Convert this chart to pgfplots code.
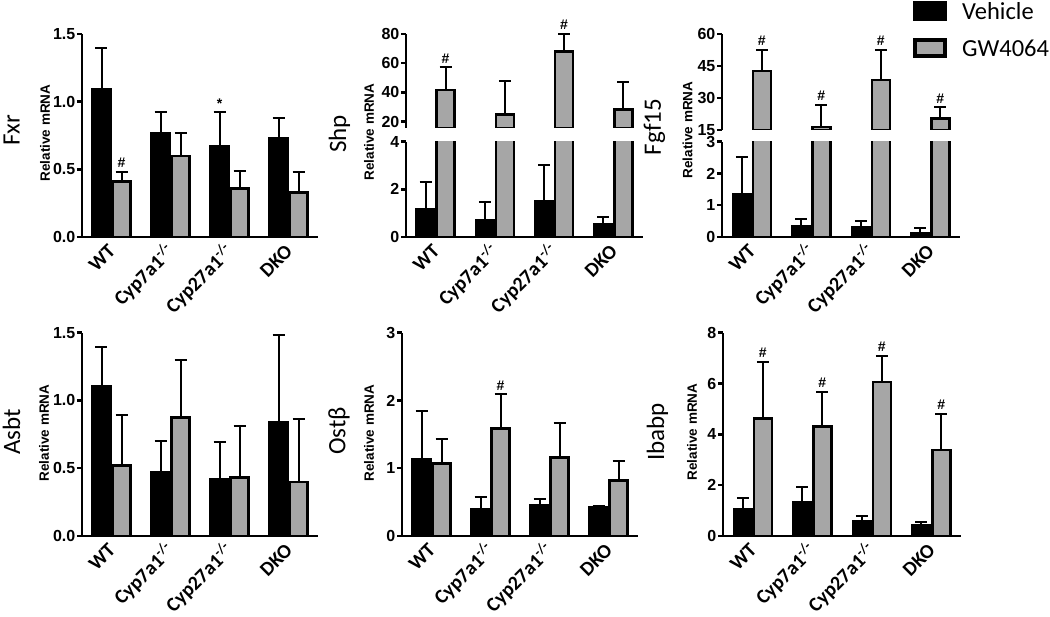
\documentclass[border=0pt]{standalone}
\usepackage{fontspec}
\setmainfont{Liberation Sans}
\newfontfamily\cfont{Carlito}
\usepackage{pgfplots}
\pgfplotsset{compat=1.18}
\definecolor{barg}{HTML}{A6A6A6}
\newcommand\tfont{\fontsize{16}{18}\selectfont\bfseries}
\newcommand\xfont{\cfont\fontsize{20}{22}\selectfont\bfseries}
\newcommand\rfont{\fontsize{13.5}{15}\selectfont\bfseries}
\newcommand\gfont{\cfont\fontsize{25}{28}\selectfont}
\newcommand\lfont{\cfont\fontsize{24.5}{28}\selectfont}
\newcommand\afont{\fontsize{14}{16}\selectfont\bfseries}
\tikzset{ann/.style={font=\afont, anchor=south, inner sep=0pt, yshift=4pt}}
\pgfplotsset{
  base/.style={scale only axis, anchor=south west, clip mode=individual,
    xmin=-0.5, xmax=3.5, enlargelimits=false, ybar,
    /pgf/number format/assume math mode=true,
    axis line style={-, line width=2.5pt},
    tick style={line width=2.5pt, black},
    major tick length=5pt,
    tick align=outside,
    tick label style={font=\tfont},
    yticklabel style={inner sep=1.5pt},
    error bars/y dir=plus, error bars/y explicit,
    error bars/error bar style={line width=2pt, black},
    error bars/error mark options={rotate=90, line width=2pt, mark size=6pt, black},
  },
  lowerx/.style={axis x line*=bottom, axis y line*=left,
    xtick={0,1,2,3},
    xticklabels={WT, Cyp7a1\textsuperscript{-/-}, Cyp27a1\textsuperscript{-/-}, DKO},
    xticklabel style={xshift=0.5pt, yshift=-6pt, rotate=45, anchor=east, inner sep=0pt, font=\xfont},
    major x tick style={draw=none},
  },
  upper/.style={axis x line=none, axis y line*=left, xtick=\empty},
  vb/.style={fill=black, draw=black, line width=2.5pt, bar width=18pt, bar shift=-10pt},
  gb/.style={fill=barg, draw=black, line width=2.5pt, bar width=18pt, bar shift=10pt},
}
\begin{document}
\begin{tikzpicture}
\useasboundingbox (0pt,0pt) rectangle (1050pt,-617pt);

% ---------- Fxr ----------
\begin{axis}[base, lowerx, at={(82pt,-237pt)}, width=236pt, height=203pt,
  ymin=0, ymax=1.5, ytick={0,0.5,1,1.5}, yticklabels={0.0,0.5,1.0,1.5}]
\addplot[vb] coordinates {(0,1.09) +- (0,0.31) (1,0.77) +- (0,0.15) (2,0.67) +- (0,0.25) (3,0.73) +- (0,0.15)};
\addplot[gb] coordinates {(0,0.41) +- (0,0.07) (1,0.60) +- (0,0.17) (2,0.36) +- (0,0.13) (3,0.33) +- (0,0.15)};
\node[ann, xshift=10pt] at (axis cs:0,0.48) {\#};
\node[ann, xshift=-10pt] at (axis cs:2,0.92) {*};
\end{axis}

% ---------- Shp ----------
\begin{axis}[base, lowerx, at={(406pt,-237pt)}, width=237pt, height=95.3pt,
  ymin=0, ymax=4, ytick={0,2,4}]
\addplot[vb] coordinates {(0,1.17) +- (0,1.15) (1,0.71) +- (0,0.76) (2,1.52) +- (0,1.50) (3,0.53) +- (0,0.32)};
\addplot[gb, error bars/y dir=none] coordinates {(0,41.7) (1,25) (2,67.9) (3,28.5)};
\end{axis}
\begin{axis}[base, upper, at={(406pt,-128pt)}, width=237pt, height=94pt,
  ymin=15.7, ymax=80, ytick={20,40,60,80}]
\addplot[gb] coordinates {(0,41.7) +- (0,15.5) (1,25) +- (0,22.8) (2,67.9) +- (0,12.1) (3,28.5) +- (0,18.4)};
\node[ann, xshift=10pt] at (axis cs:0,57.2) {\#};
\node[ann, xshift=10pt] at (axis cs:2,80) {\#};
\end{axis}

% ---------- Fgf15 ----------
\begin{axis}[base, lowerx, at={(722pt,-237pt)}, width=238pt, height=95.3pt,
  ymin=0, ymax=3, ytick={0,1,2,3}]
\addplot[vb] coordinates {(0,1.35) +- (0,1.18) (1,0.33) +- (0,0.23) (2,0.30) +- (0,0.21) (3,0.13) +- (0,0.14)};
\addplot[gb, error bars/y dir=none] coordinates {(0,42.7) (1,16.5) (2,38.4) (3,20.5)};
\end{axis}
\begin{axis}[base, upper, at={(722pt,-130pt)}, width=238pt, height=96pt,
  ymin=15, ymax=60, ytick={15,30,45,60},
  legend style={draw=none, fill=none, at={(axis description cs:0.8025,1.35)}, anchor=north west,
    inner sep=0pt, column sep=15pt, row sep=17pt, nodes={inner sep=0pt}, font=\lfont},
  legend cell align=left,
  legend image code/.code={\draw[#1] (2pt,-7pt) rectangle (32pt,9pt);}]
\addlegendimage{fill=black, draw=black, line width=4pt}
\addlegendentry{Vehicle}
\addlegendimage{fill=barg, draw=black, line width=4pt}
\addlegendentry{GW4064}
\addplot[gb, forget plot] coordinates {(0,42.7) +- (0,9.8) (1,16.5) +- (0,10.2) (2,38.4) +- (0,14.1) (3,20.5) +- (0,5.1)};
\node[ann, xshift=10pt] at (axis cs:0,52.5) {\#};
\node[ann, xshift=10pt] at (axis cs:1,26.7) {\#};
\node[ann, xshift=10pt] at (axis cs:2,52.5) {\#};
\node[ann, xshift=10pt] at (axis cs:3,25.6) {\#};
\end{axis}

% ---------- Asbt ----------
\begin{axis}[base, lowerx, at={(82pt,-536pt)}, width=236pt, height=203.3pt,
  ymin=0, ymax=1.5, ytick={0,0.5,1,1.5}, yticklabels={0.0,0.5,1.0,1.5}]
\addplot[vb] coordinates {(0,1.107) +- (0,0.29) (1,0.47) +- (0,0.23) (2,0.42) +- (0,0.27) (3,0.836) +- (0,0.65)};
\addplot[gb] coordinates {(0,0.52) +- (0,0.37) (1,0.876) +- (0,0.42) (2,0.43) +- (0,0.38) (3,0.40) +- (0,0.46)};
\end{axis}

% ---------- Ost beta ----------
\begin{axis}[base, lowerx, at={(402pt,-536pt)}, width=236pt, height=203.3pt,
  ymin=0, ymax=3, ytick={0,1,2,3}]
\addplot[vb] coordinates {(0,1.13) +- (0,0.72) (1,0.40) +- (0,0.18) (2,0.45) +- (0,0.09) (3,0.42) +- (0,0.03)};
\addplot[gb] coordinates {(0,1.07) +- (0,0.36) (1,1.59) +- (0,0.50) (2,1.16) +- (0,0.51) (3,0.82) +- (0,0.28)};
\node[ann, xshift=10pt] at (axis cs:1,2.09) {\#};
\end{axis}

% ---------- Ibabp ----------
\begin{axis}[base, lowerx, at={(723pt,-536pt)}, width=238pt, height=203.3pt,
  ymin=0, ymax=8, ytick={0,2,4,6,8}]
\addplot[vb] coordinates {(0,1.05) +- (0,0.46) (1,1.32) +- (0,0.62) (2,0.60) +- (0,0.19) (3,0.41) +- (0,0.15)};
\addplot[gb] coordinates {(0,4.63) +- (0,2.21) (1,4.31) +- (0,1.35) (2,6.06) +- (0,1.04) (3,3.38) +- (0,1.42)};
\node[ann, xshift=10pt] at (axis cs:0,6.84) {\#};
\node[ann, xshift=10pt] at (axis cs:1,5.66) {\#};
\node[ann, xshift=10pt] at (axis cs:2,7.10) {\#};
\node[ann, xshift=10pt] at (axis cs:3,4.80) {\#};
\end{axis}

% ---------- panel labels ----------
\node[rotate=90, font=\gfont] at (11.5pt,-130pt) {Fxr};
\node[rotate=90, font=\gfont] at (339.5pt,-134pt) {Shp};
\node[rotate=90, font=\gfont] at (654.5pt,-127pt) {Fgf15};
\node[rotate=90, font=\gfont] at (11.5pt,-432pt) {Asbt};
\node[rotate=90, font=\gfont] at (339pt,-431pt) {Ostβ};
\node[rotate=90, font=\gfont] at (657.5pt,-432pt) {Ibabp};
\node[rotate=90, font=\rfont] at (45pt,-133pt) {Relative mRNA};
\node[rotate=90, font=\rfont] at (369pt,-132pt) {Relative mRNA};
\node[rotate=90, font=\rfont] at (687.5pt,-130pt) {Relative mRNA};
\node[rotate=90, font=\rfont] at (44pt,-433pt) {Relative mRNA};
\node[rotate=90, font=\rfont] at (369pt,-433pt) {Relative mRNA};
\node[rotate=90, font=\rfont] at (692pt,-432pt) {Relative mRNA};
\end{tikzpicture}
\end{document}
